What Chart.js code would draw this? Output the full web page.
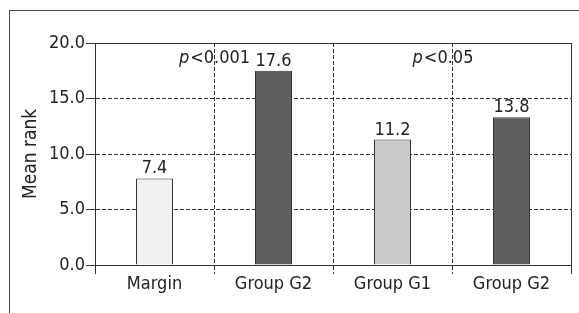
<!DOCTYPE html>
<html>
<head>
<meta charset="utf-8">
<script src="https://cdn.jsdelivr.net/npm/chart.js@4"></script>
<style>
  html, body { margin: 0; padding: 0; background: #fff; }
  #wrap { position: relative; width: 579px; height: 313px; overflow: hidden; }
  #frame { position: absolute; left: 9px; top: 10px; width: 580px; height: 320px;
           border-top: 1px solid #444; border-left: 1px solid #444; }
  #chart { position: absolute; left: 0; top: 0; }
</style>
</head>
<body>
<div id="wrap">
  <div id="frame"></div>
  <canvas id="chart" width="579" height="313"></canvas>
</div>
<script>
const groups = ['Margin', 'Group G2', 'Group G1', 'Group G2'];
// bar heights as drawn in the figure
const meanRank = [7.8, 17.5, 11.3, 13.3];
// numbers printed above the bars
const rankText = ['7.4', '17.6', '11.2', '13.8'];
const barColors = ['#f0f1f2', '#5f5f5f', '#c8c9cb', '#5f5f5f'];
const pValues = ['<0.001', '<0.05'];
const pAt = [0.5, 2.42];
const pLevel = 18.2;

const FONT = '"Liberation Sans Narrow", "DejaVu Sans Condensed", "Arial Narrow", sans-serif';
const SIZE = 18;
const INK = '#222';
const LINE = '#333';

Chart.defaults.font.family = FONT;
Chart.defaults.font.size = SIZE;
Chart.defaults.color = INK;

// inner grid lines dashed, frame lines solid
const xDash = ctx => (ctx.type === 'tick' && ctx.index > 0) ? [4, 2] : [];
const yDash = ctx => (ctx.type === 'tick' && ctx.tick.value > 0 && ctx.tick.value < 20) ? [4, 2] : [];

const barText = {
  id: 'barText',
  afterDatasetsDraw(chart) {
    const { ctx, scales: { x, y } } = chart;
    const meta = chart.getDatasetMeta(0);
    ctx.save();
    ctx.fillStyle = INK;
    ctx.font = SIZE + 'px ' + FONT;
    ctx.textAlign = 'center';
    ctx.textBaseline = 'alphabetic';
    meta.data.forEach((bar, i) => {
      ctx.fillText(rankText[i], bar.x, bar.y - 5);
    });

    ctx.textAlign = 'left';
    pValues.forEach((t, i) => {
      const cx = x.getPixelForValue(pAt[i]);
      const by = y.getPixelForValue(pLevel);
      ctx.font = 'italic ' + SIZE + 'px ' + FONT;
      const wp = ctx.measureText('p').width;
      ctx.font = SIZE + 'px ' + FONT;
      const wt = ctx.measureText(t).width;
      const sx = cx - (wp + wt) / 2;
      ctx.font = 'italic ' + SIZE + 'px ' + FONT;
      ctx.fillText('p', sx, by);
      ctx.font = SIZE + 'px ' + FONT;
      ctx.fillText(t, sx + wp + 1, by);
    });
    ctx.restore();
  }
};

new Chart(document.getElementById('chart'), {
  type: 'bar',
  data: {
    labels: groups,
    datasets: [{
      data: meanRank,
      backgroundColor: barColors,
      borderColor: LINE,
      borderWidth: 1,
      barThickness: 37,
      inflateAmount: 0
    }]
  },
  options: {
    responsive: false,
    animation: false,
    layout: { padding: { top: 43, right: 8, left: 0, bottom: 0 } },
    plugins: {
      legend: { display: false },
      tooltip: { enabled: false }
    },
    scales: {
      x: {
        grid: {
          offset: true,
          color: LINE,
          lineWidth: 1,
          tickLength: 9,
          tickColor: LINE,
          tickBorderDash: xDash
        },
        border: { display: true, color: LINE, width: 1, dash: xDash },
        ticks: { padding: 0, color: INK },
        afterFit: s => { s.height = 48; }
      },
      y: {
        min: 0,
        max: 20,
        grid: {
          color: LINE,
          lineWidth: 1,
          tickLength: 9,
          tickColor: LINE,
          tickBorderDash: []
        },
        border: { display: true, color: LINE, width: 1, dash: yDash },
        ticks: {
          stepSize: 5,
          padding: 1,
          color: INK,
          callback: v => v.toFixed(1)
        },
        title: {
          display: true,
          text: 'Mean rank',
          color: INK,
          font: { size: 19 },
          padding: { top: 20, bottom: 0 }
        },
        afterFit: s => { s.width = 95; }
      }
    }
  },
  plugins: [barText]
});
</script>
</body>
</html>
